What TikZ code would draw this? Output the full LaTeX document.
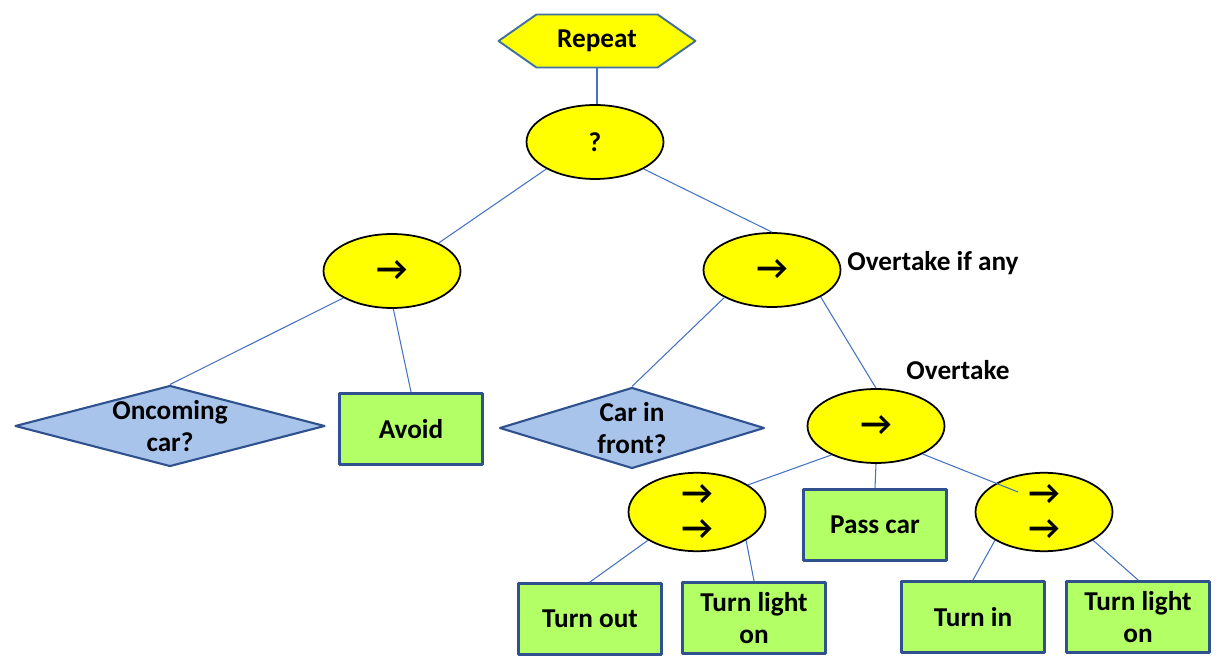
\documentclass[tikz,border=0pt]{standalone}
\usepackage{fontspec}
\setmainfont{Carlito}
\usetikzlibrary{shapes.geometric,shapes.symbols}
\definecolor{ctrlyellow}{RGB}{255,255,0}
\definecolor{actgreen}{RGB}{178,255,102}
\definecolor{actborder}{RGB}{47,82,143}
\definecolor{condblue}{RGB}{169,196,235}
\definecolor{hexborder}{RGB}{65,113,156}
\definecolor{linkblue}{RGB}{68,114,196}
\newcommand{\seqarr}{{\fontsize{19.5}{18.7}\selectfont →}}
\begin{document}
\begin{tikzpicture}[x=0.02cm,y=-0.02cm,line join=round,
		every node/.style={font=\bfseries\fontsize{15.5}{18.7}\selectfont,align=center},
		ctrl/.style={ellipse,draw=black,line width=1pt,fill=ctrlyellow,minimum width=2.74cm,minimum height=1.48cm,inner sep=0pt},
		act/.style={rectangle,draw=actborder,line width=1.8pt,fill=actgreen,minimum width=2.86cm,minimum height=1.42cm,inner sep=0pt},
		cond/.style={diamond,draw=actborder,line width=1.2pt,fill=condblue,inner sep=0pt},
		lnk/.style={draw=linkblue,line width=0.6pt}]
		\useasboundingbox (0,0) rectangle (1230,661);
		% top of the tree
		\node[signal,signal to=west and east,signal pointer angle=70,draw=hexborder,line width=1.1pt,fill=ctrlyellow,minimum width=3.94cm,minimum height=1.06cm,inner sep=0pt] (rep) at (597,41) {Repeat};
		\node[ctrl] (sel) at (595,142) {?};
		\node[ctrl] (seqL) at (392,271) {\seqarr};
		\node[ctrl] (seqR) at (772,270) {\seqarr};
		\node (ovany) at (933,263) {Overtake if any};
		% left branch
		\node[cond,minimum width=6.2cm,minimum height=1.62cm,label={[align=center]center:{Oncoming\\car?}}] (onc) at (170,426) {};
		\node[act] (avoid) at (411,429) {Avoid};
		% right branch
		\node[cond,minimum width=5.3cm,minimum height=1.62cm,label={[align=center]center:{Car in\\front?}}] (front) at (632,428) {};
		\node (ovlab) at (958,370) {Overtake};
		\node[ctrl] (ovt) at (876,426) {\seqarr};
		\node[ctrl] (seqA) at (697,512) {\seqarr\\[1.5pt]\seqarr};
		\node[act] (pass) at (875,525) {Pass car};
		\node[ctrl] (seqB) at (1044,512) {\seqarr\\[1.5pt]\seqarr};
		\node[act] (tout) at (590,619) {Turn out};
		\node[act] (lightA) at (754,618) {Turn light\\on};
		\node[act] (tin) at (973,617) {Turn in};
		\node[act] (lightB) at (1138,617) {Turn light\\on};
		% links
		\draw[lnk] (rep.south)-- (rep.south |- sel.north);
		\draw[lnk] (sel.209)-- (seqL.31);
		\draw[lnk] (sel.331)-- (seqR.north);
		\draw[lnk] (seqL.209)-- (onc.north);
		\draw[lnk] (seqL.272)-- (avoid.north);
		\draw[lnk] (seqR.210)-- (front.north);
		\draw[lnk] (seqR.331)-- (ovt.north);
		\draw[lnk] (ovt.213)-- (seqA.28);
		\draw[lnk] (ovt.south)-- (pass.north);
		\draw[lnk] (ovt.329)-- ([shift={(-26,-20)}]seqB.center);
		\draw[lnk] (seqA.210)-- (tout.north);
		\draw[lnk] (seqA.330)-- (lightA.north);
		\draw[lnk] (seqB.210)-- (tin.north);
		\draw[lnk] (seqB.330)-- (lightB.north);
\end{tikzpicture}
\end{document}
